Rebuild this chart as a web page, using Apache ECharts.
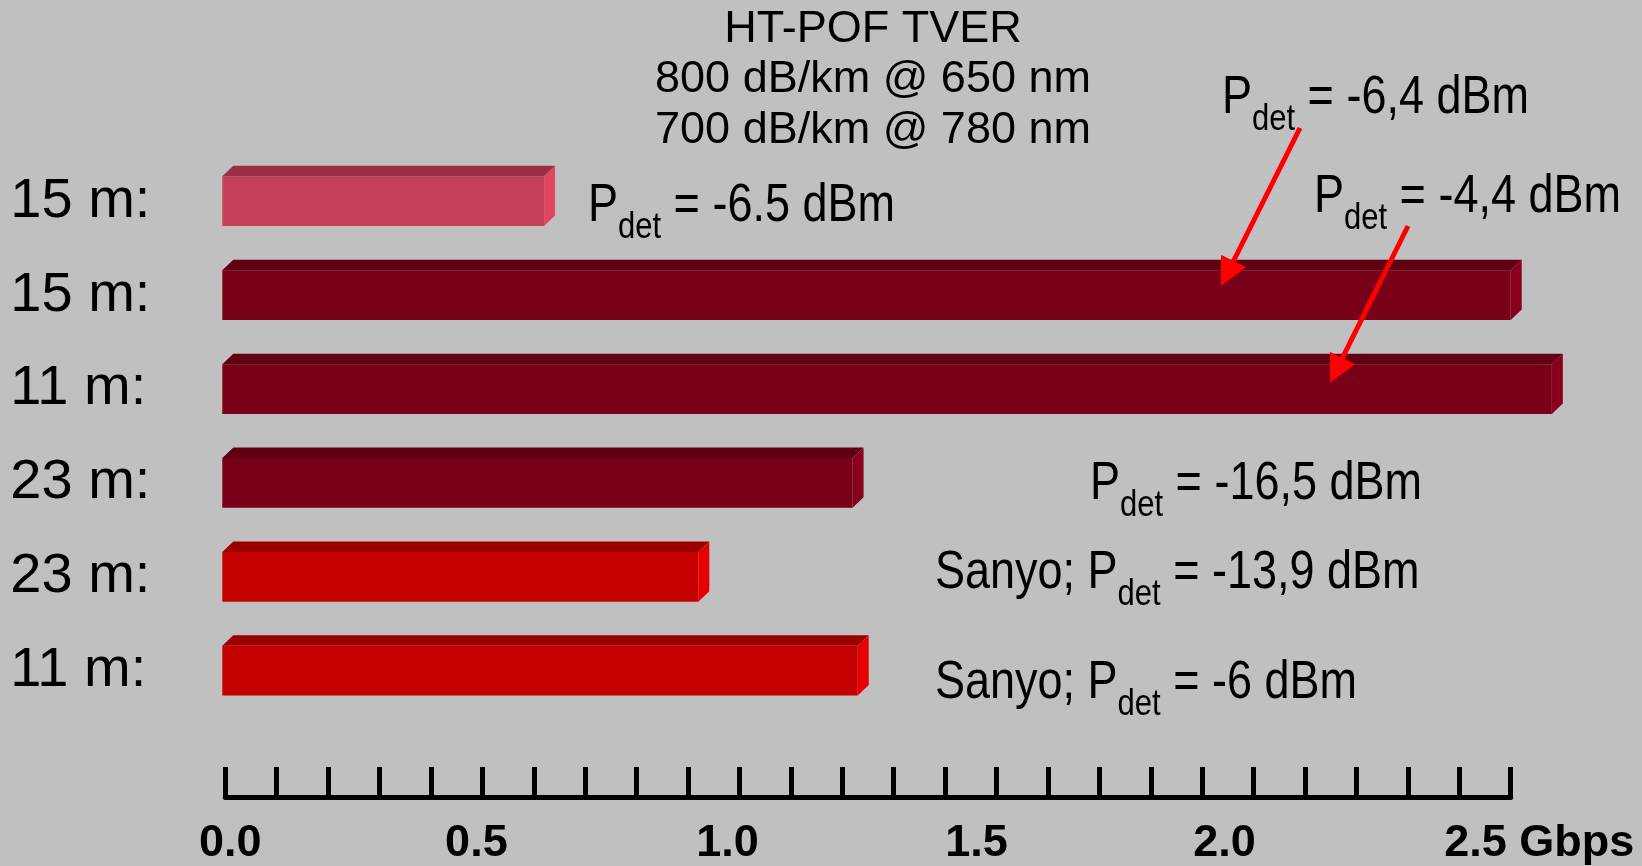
<!DOCTYPE html>
<html>
<head>
<meta charset="utf-8">
<title>HT-POF TVER</title>
<script src="https://cdn.jsdelivr.net/npm/echarts@6/dist/echarts.min.js"></script>
<style>
  html, body { margin: 0; padding: 0; background: #c0c0c0; }
  #chart { width: 1642px; height: 866px; }
</style>
</head>
<body>
<div id="chart"></div>
<script>
// Rows from top to bottom: fibre length label and reached bit rate (Gbps)
const rowLabels = ['15 m:', '15 m:', '11 m:', '23 m:', '23 m:', '11 m:'];
const rateGbps = [0.62, 2.50, 2.58, 1.22, 0.92, 1.23];

// Which rows belong to which bar colour group
const pinkRows = [0];
const darkRows = [1, 2, 3];
const redRows = [4, 5];

// Axis tick labels (every 0.5 Gbps) and the last one carries the unit
const tickLabels = ['0.0', '0.5', '1.0', '1.5', '2.0', '2.5 Gbps'];

const titleLines = ['HT-POF TVER', '800 dB/km @ 650 nm', '700 dB/km @ 780 nm'];

// Detected-power notes: text before the subscript, subscript, text after
const notes = [
  { pre: 'P', sub: 'det', post: ' = -6.5 dBm', x: 588, y: 180 },
  { pre: 'P', sub: 'det', post: ' = -6,4 dBm', x: 1222, y: 72 },
  { pre: 'P', sub: 'det', post: ' = -4,4 dBm', x: 1314, y: 171 },
  { pre: 'P', sub: 'det', post: ' = -16,5 dBm', x: 1090, y: 458 },
  { pre: 'Sanyo; P', sub: 'det', post: ' = -13,9 dBm', x: 935, y: 547 },
  { pre: 'Sanyo; P', sub: 'det', post: ' = -6 dBm', x: 935, y: 657 }
];

// Arrows from the notes down to the long bars: [start, tip]
const arrows = [
  [[1300, 128], [1221, 286]],
  [[1408, 226], [1330, 383]]
];

const FONT = '"Liberation Sans", Arial, Helvetica, sans-serif';

const palettes = {
  pink: { front: '#c4405a', top: '#9b2f46', side: '#e04660' },
  dark: { front: '#780018', top: '#600012', side: '#88001e' },
  red:  { front: '#c40000', top: '#9b0000', side: '#e60000' }
};

function makeRenderer(pal) {
  return function (params, api) {
    const v = api.value(0);
    const row = api.value(1);
    const p0 = api.coord([0, row]);
    const p1 = api.coord([v, row]);
    const h = api.size([0, 1])[1] * 0.53;
    const dx = 11, dy = 10.5;
    const top = p0[1] - h / 2, bot = p0[1] + h / 2;
    const x0 = p0[0] - 3, x1 = p1[0];
    return {
      type: 'group',
      children: [
        { type: 'rect', shape: { x: x0, y: top, width: x1 - x0, height: h }, style: { fill: pal.front } },
        { type: 'polygon', shape: { points: [[x0, top], [x0 + dx, top - dy], [x1 + dx, top - dy], [x1, top]] }, style: { fill: pal.top } },
        { type: 'polygon', shape: { points: [[x1, top], [x1 + dx, top - dy], [x1 + dx, bot - dy], [x1, bot]] }, style: { fill: pal.side } }
      ]
    };
  };
}

function barSeries(name, rows, pal) {
  return {
    type: 'custom',
    name: name,
    clip: false,
    z: 2,
    renderItem: makeRenderer(pal),
    encode: { x: 0, y: 1 },
    data: rows.map(function (r) { return [rateGbps[r], r]; })
  };
}

// Horizontal nudges of the tick labels (px), as they sit under the scale
const labelShift = [5, -6, -12, -20, -29, 0];
const tickRich = {};
tickLabels.forEach(function (t, i) {
  const s = labelShift[i];
  const pad = [0, s < 0 ? -2 * s : 0, 0, s > 0 ? 2 * s : 0];
  tickRich['t' + i] = {
    fontFamily: FONT, fontSize: 45, fontWeight: 'bold', color: '#000', padding: pad
  };
});
// the unit label starts a little left of its tick
tickRich.t5.padding = [0, 0, 0, 57];

// Notes use a tall, slightly condensed-looking lettering
const noteRich = {
  m: { fontFamily: FONT, fontSize: 45, lineHeight: 50, color: '#000', verticalAlign: 'top' },
  s: { fontFamily: FONT, fontSize: 31, lineHeight: 31, color: '#000', verticalAlign: 'top', padding: [25, 0, 0, 0] }
};

const graphics = [];
notes.forEach(function (n) {
  graphics.push({
    type: 'text',
    x: n.x, y: n.y,
    scaleY: 1.18,
    z: 100,
    style: {
      text: '{m|' + n.pre + '}{s|' + n.sub + '}{m|' + n.post + '}',
      rich: noteRich,
      align: 'left', verticalAlign: 'top',
      textAlign: 'left', textVerticalAlign: 'top'
    }
  });
});
arrows.forEach(function (a) {
  const s = a[0], t = a[1];
  const vx = t[0] - s[0], vy = t[1] - s[1];
  const len = Math.sqrt(vx * vx + vy * vy);
  const ux = vx / len, uy = vy / len;
  const headLen = 28, headHalf = 14;
  const bx = t[0] - ux * headLen, by = t[1] - uy * headLen;
  graphics.push({
    type: 'line',
    z: 100,
    shape: { x1: s[0], y1: s[1], x2: bx + ux * 2, y2: by + uy * 2 },
    style: { stroke: '#ff0000', lineWidth: 5 }
  });
  graphics.push({
    type: 'polygon',
    z: 100,
    shape: { points: [[t[0], t[1]], [bx - uy * headHalf, by + ux * headHalf], [bx + uy * headHalf, by - ux * headHalf]] },
    style: { fill: '#ff0000' }
  });
});

const chart = echarts.init(document.getElementById('chart'), null, { renderer: 'canvas' });
chart.setOption({
  backgroundColor: '#c0c0c0',
  animation: false,
  title: {
    text: titleLines.join('\n'),
    left: 873,
    top: 4,
    padding: 0,
    textAlign: 'center',
    textStyle: { fontFamily: FONT, fontSize: 45, fontWeight: 'normal', color: '#000', lineHeight: 50.5 }
  },
  grid: { left: 225.3, right: 131.3, top: 154.3, bottom: 147.7, containLabel: false },
  xAxis: {
    type: 'value',
    min: 0,
    max: 2.5,
    interval: 0.1,
    offset: 79.4,
    splitLine: { show: false },
    axisLine: { show: true, lineStyle: { color: '#000', width: 5 } },
    axisTick: { show: true, inside: true, length: 30, lineStyle: { color: '#000', width: 5 } },
    axisLabel: {
      margin: 24,
      showMinLabel: true,
      showMaxLabel: true,
      formatter: function (v) {
        const k = Math.round(v * 10);
        if (k % 5 !== 0) return '';
        const i = k / 5;
        return '{t' + i + '|' + tickLabels[i] + '}';
      },
      rich: tickRich
    }
  },
  yAxis: {
    type: 'category',
    inverse: true,
    data: rowLabels,
    axisLine: { show: false },
    axisTick: { show: false },
    splitLine: { show: false },
    axisLabel: {
      interval: 0,
      align: 'left',
      margin: 215,
      fontFamily: FONT,
      fontSize: 56,
      color: '#000'
    }
  },
  graphic: graphics,
  series: [
    barSeries('pink', pinkRows, palettes.pink),
    barSeries('dark', darkRows, palettes.dark),
    barSeries('red', redRows, palettes.red)
  ]
});
</script>
</body>
</html>
